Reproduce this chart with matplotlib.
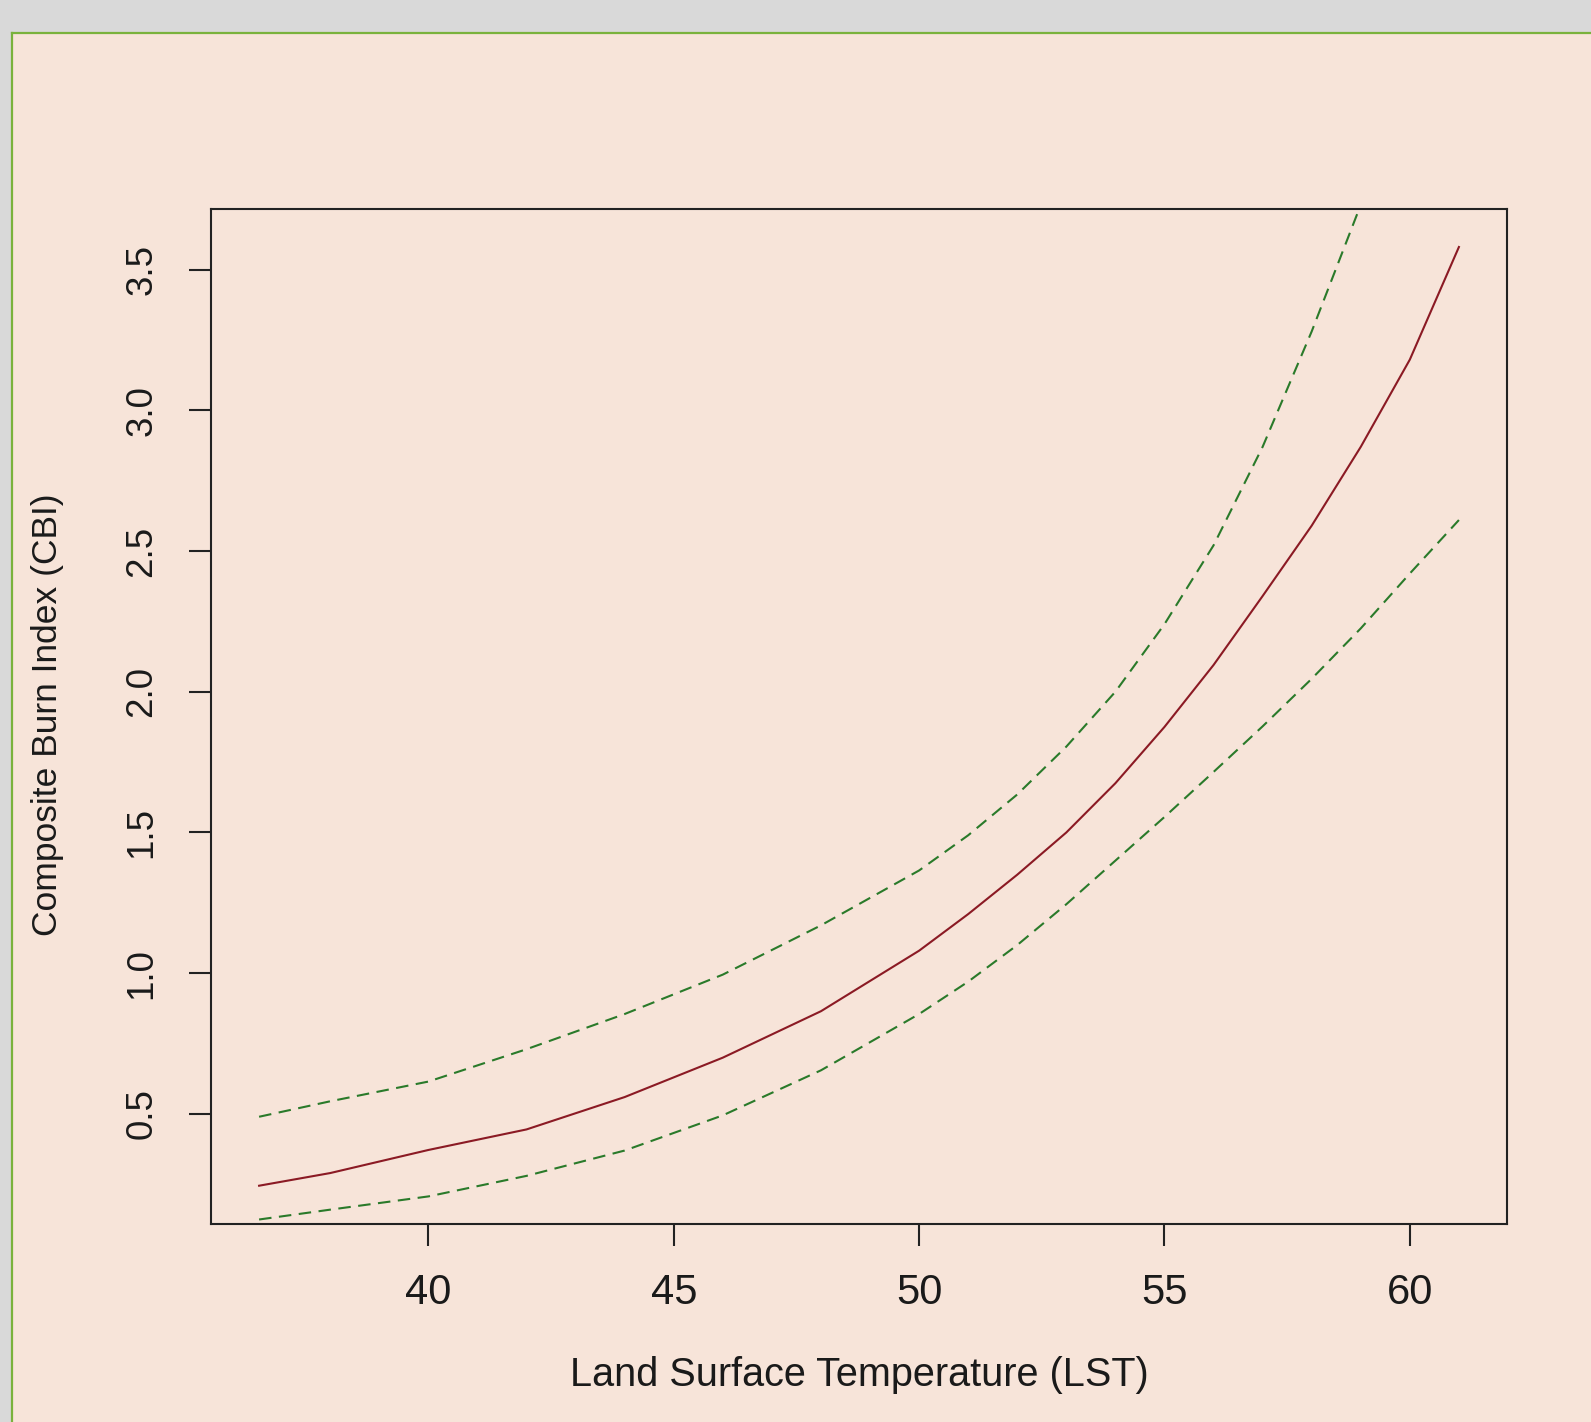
import matplotlib
matplotlib.use("Agg")
import matplotlib.pyplot as plt
from matplotlib.patches import Rectangle
from matplotlib.lines import Line2D

plt.rcParams['font.family'] = ['Liberation Sans', 'DejaVu Sans']

# Data
lst = [36.55, 38, 40, 42, 44, 46, 48, 50, 51, 52, 53, 54, 55, 56, 57, 58, 59, 60, 61]
cbi_fit = [0.245, 0.29, 0.372, 0.445, 0.56, 0.70, 0.865, 1.08, 1.21, 1.35, 1.50,
           1.675, 1.875, 2.095, 2.34, 2.59, 2.87, 3.18, 3.58]
lst_upper = [36.55, 38, 40, 42, 44, 46, 48, 50, 51, 52, 53, 54, 55, 56, 57, 58, 59]
cbi_upper = [0.49, 0.545, 0.615, 0.73, 0.855, 0.995, 1.17, 1.365, 1.49, 1.635, 1.805,
             2.00, 2.24, 2.52, 2.87, 3.28, 3.73]
cbi_lower = [0.125, 0.16, 0.207, 0.28, 0.37, 0.495, 0.655, 0.855, 0.97, 1.10, 1.245,
             1.40, 1.555, 1.715, 1.877, 2.046, 2.225, 2.42, 2.61]
xticks = [40, 45, 50, 55, 60]
yticks = [0.5, 1.0, 1.5, 2.0, 2.5, 3.0, 3.5]
xlabel = "Land Surface Temperature (LST)"
ylabel = "Composite Burn Index (CBI)"

W, H = 1591, 1422
bg = '#f7e4d9'
fig = plt.figure(figsize=(W / 100, H / 100), dpi=100, facecolor=bg)

# gray frame strips and green border
fig.patches.append(Rectangle((0, 1 - 33 / H), 1, 33 / H, transform=fig.transFigure,
                             facecolor='#d9d9d9', edgecolor='none', zorder=0))
fig.patches.append(Rectangle((0, 0), 12 / W, 1, transform=fig.transFigure,
                             facecolor='#d9d9d9', edgecolor='none', zorder=0))
fig.lines.append(Line2D([12 / W, 1], [1 - 33 / H, 1 - 33 / H], transform=fig.transFigure,
                        color='#7ab23c', lw=1.6))
fig.lines.append(Line2D([12 / W, 12 / W], [0, 1 - 33 / H], transform=fig.transFigure,
                        color='#7ab23c', lw=1.6))

left, right, top, bottom = 211, 1507, 209, 1224
ax = fig.add_axes([left / W, 1 - bottom / H, (right - left) / W, (bottom - top) / H])
ax.set_facecolor(bg)

ax.plot(lst, cbi_fit, color='#8b1a24', lw=1.5)
ln1, = ax.plot(lst_upper, cbi_upper, color='#2a7a2a', lw=1.5)
ln2, = ax.plot(lst, cbi_lower, color='#2a7a2a', lw=1.5)
for ln in (ln1, ln2):
    ln.set_dashes((6, 3.6))

ax.set_xlim(35.57, 61.98)
ax.set_ylim(0.109, 3.715)
ax.set_xticks(xticks)
ax.set_xticklabels([str(t) for t in xticks])
ax.set_yticks(yticks)
ax.set_yticklabels([f"{t:.1f}" for t in yticks], rotation=90, va='center')

for s in ax.spines.values():
    s.set_linewidth(1.5)
    s.set_color('#222222')
ax.tick_params(axis='both', direction='out', length=16, width=1.5, color='#222222',
               labelcolor='#1a1a1a')
ax.tick_params(axis='x', pad=19, labelsize=30)
ax.tick_params(axis='y', pad=21, labelsize=26.5)

fig.text(859 / W, 1 - 1375 / H, xlabel, ha='center', va='center', fontsize=28.5, color='#1a1a1a')
fig.text(48 / W, 1 - 715 / H, ylabel, ha='center', va='center', rotation=90,
         fontsize=25.5, color='#1a1a1a')

fig.savefig("out.png", dpi=100, facecolor=bg)
